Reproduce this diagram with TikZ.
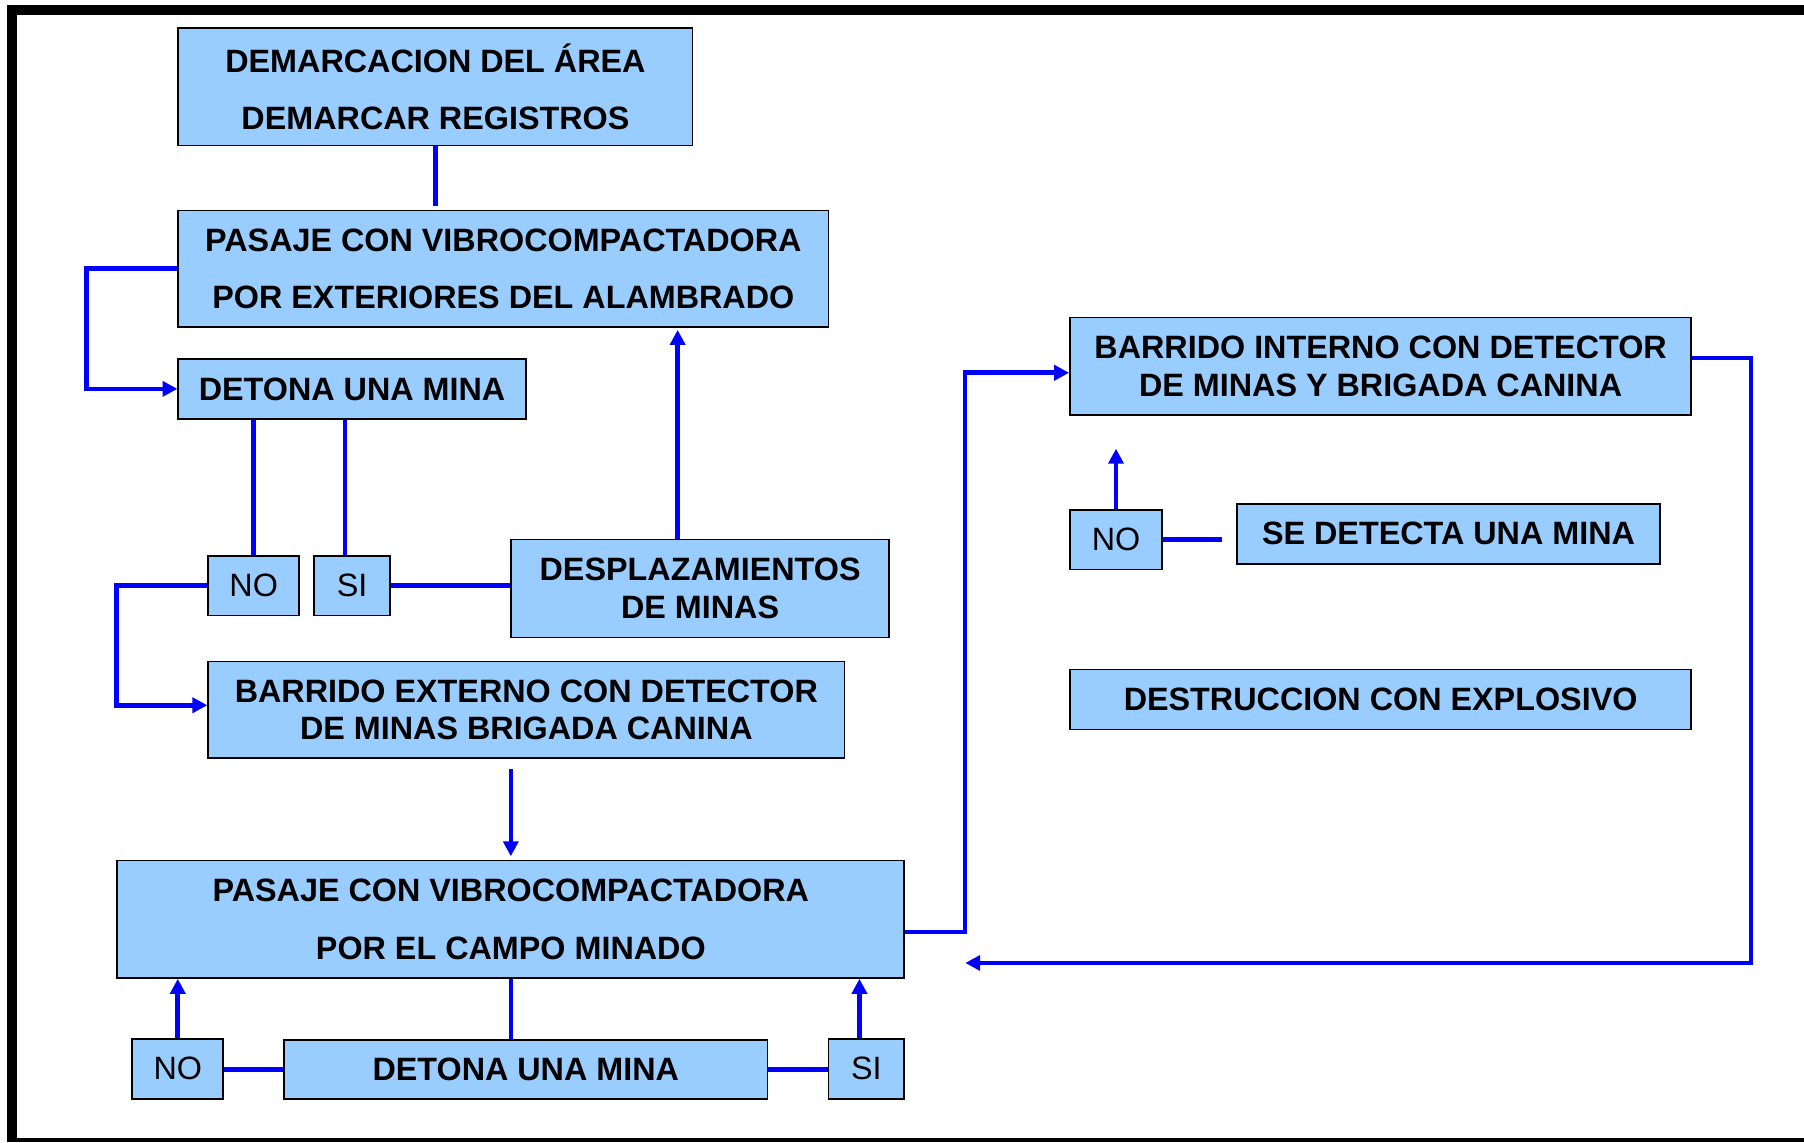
\documentclass[tikz,border=0pt]{standalone}
\usepackage{fontspec}
\setmainfont{Liberation Sans}
\usetikzlibrary{arrows.meta}
\definecolor{boxfill}{RGB}{153,204,255}
\definecolor{lineblue}{RGB}{0,0,255}
\begin{document}
\begin{tikzpicture}[x=1pt,y=-1pt,
  box/.style={draw=black, line width=1.5pt, fill=boxfill, inner sep=0pt, align=center,
    font=\bfseries\fontsize{28.1}{33}\selectfont},
  widebox/.style={box, font=\bfseries\fontsize{28.1}{50}\selectfont},
  ans/.style={box, font=\fontsize{28.1}{33}\selectfont},
  conn/.style={draw=lineblue, line width=4pt, line join=miter},
  arr/.style={conn, -{Triangle[length=13pt,width=13pt]}},
]
\useasboundingbox (0,0) rectangle (1568,993);
% frame
\fill[black] (6,4) rectangle (1568,13);
\fill[black] (6,4) rectangle (15,993);
\fill[black] (6,989) rectangle (1568,993);

% boxes
\node[widebox, minimum width=447pt, minimum height=102pt] (demarc) at (378.5,75.5) {DEMARCACION DEL ÁREA\\DEMARCAR REGISTROS};
\node[widebox, minimum width=565pt, minimum height=101pt] (pas1) at (437.5,233.5) {PASAJE CON VIBROCOMPACTADORA\\POR EXTERIORES DEL ALAMBRADO};
\node[box, minimum width=302pt, minimum height=52pt] (det1) at (306,338) {DETONA UNA MINA};
\node[ans, minimum width=79pt, minimum height=52pt] (no1) at (220.5,509) {NO};
\node[ans, minimum width=66pt, minimum height=52pt] (si1) at (306,509) {SI};
\node[box, minimum width=329pt, minimum height=85pt] (despl) at (608.5,511.5) {DESPLAZAMIENTOS\\DE MINAS};
\node[box, minimum width=553pt, minimum height=84pt] (bext) at (457.5,617) {BARRIDO EXTERNO CON DETECTOR\\DE MINAS BRIGADA CANINA};
\node[widebox, minimum width=684pt, minimum height=102pt] (pas2) at (444,799) {PASAJE CON VIBROCOMPACTADORA\\POR EL CAMPO MINADO};
\node[ans, minimum width=79pt, minimum height=52pt] (no2) at (154.5,929) {NO};
\node[box, minimum width=420pt, minimum height=51pt] (det2) at (457,929.5) {DETONA UNA MINA};
\node[ans, minimum width=66pt, minimum height=52pt] (si2) at (753,929) {SI};
\node[box, minimum width=540pt, minimum height=85pt] (bint) at (1200,318.5) {BARRIDO INTERNO CON DETECTOR\\DE MINAS Y BRIGADA CANINA};
\node[ans, minimum width=80pt, minimum height=52pt] (no3) at (970,469) {NO};
\node[box, minimum width=368pt, minimum height=52pt] (sedet) at (1259,464) {SE DETECTA UNA MINA};
\node[box, minimum width=540pt, minimum height=52pt] (destr) at (1200,608) {DESTRUCCION CON EXPLOSIVO};

% free ends
\coordinate (rc) at (1522,837);
\coordinate (ret) at (839,837);
\coordinate (up3) at (970,390);
\coordinate (end3) at (1062,469);

% connectors
\draw[conn, shorten >=3pt] (demarc.south) -- (demarc.south |- pas1.north);
\draw[arr] (pas1.west) -- ++(-79,0) |- (det1.west);
\draw[conn] (no1.north |- det1.south) -- (no1.north);
\draw[conn] ([xshift=-6pt]si1.north |- det1.south) -- ([xshift=-6pt]si1.north);
\draw[conn] (si1.east) -- (despl.west |- si1.east);
\draw[arr, shorten >=2pt] ([xshift=-19.5pt]despl.north) -- ([xshift=-19.5pt]despl.north |- pas1.south);
\draw[arr] (no1.west) -- ++(-79,0) |- ([yshift=4pt]bext.west);
\draw[arr, shorten <=9pt, shorten >=3pt] (pas2.north |- bext.south) -- (pas2.north);
\draw[conn] (pas2.south) -- (pas2.south |- det2.north);
\draw[conn] (det2.west) -- (no2.east |- det2.west);
\draw[arr] (no2.north) -- (no2.north |- pas2.south);
\draw[conn] (det2.east) -- (si2.west |- det2.east);
\draw[arr] ([xshift=-6pt]si2.north) -- ([xshift=-6pt]si2.north |- pas2.south);
\draw[arr] ([yshift=-11pt]pas2.east) -- ++(52,0) |- ([yshift=-5.5pt]bint.west);
\draw[arr] ([yshift=7.5pt]bint.east) -| (rc) -- (ret);
\draw[arr] (no3.north) -- (up3);
\draw[conn] (no3.east) -- (end3);
\end{tikzpicture}
\end{document}
